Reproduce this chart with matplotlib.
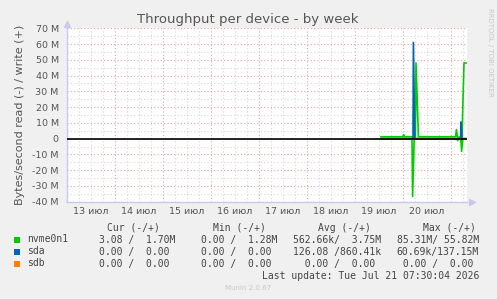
import matplotlib
matplotlib.use("Agg")
import matplotlib.pyplot as plt
from matplotlib.ticker import MultipleLocator, FuncFormatter, FixedLocator

# time axis: hours since 13 Jul 00:00, values in MB/s
day_labels = ["13 июл", "14 июл", "15 июл", "16 июл", "17 июл", "18 июл", "19 июл", "20 июл"]

nvme_write_t = [157, 168, 168.3, 168.6, 174.2, 174.5, 175.7, 194.3, 194.7, 195.3, 196.0, 197.5, 198.5, 199.5]
nvme_write_v = [1.2, 1.2, 2.5, 1.2, 1.2, 48.0, 1.2, 1.2, 5.7, 0.5, 1.0, 1.0, 48.0, 48.0]

nvme_read_t = [157, 172.5, 172.8, 173.6, 195.0, 195.3, 195.8, 196.9, 197.3, 197.9, 199.5]
nvme_read_v = [0, 0, -36.7, 0, 0, -1.2, 0, 0, -8.0, 0, 0]

sda_write_t = [157, 173.0, 173.2, 173.9, 196.8, 197.0, 197.5, 199.5]
sda_write_v = [0, 0, 61.0, 0, 0, 10.6, 0, 0]

sdb_t = [157, 199.5]
sdb_v = [0, 0]

# legend table
names = ["nvme0n1", "sda", "sdb"]
colors = ["#00CC00", "#0066B3", "#FF8000"]
cur_col = ["3.08 /  1.70M", "0.00 /  0.00", "0.00 /  0.00"]
min_col = ["0.00 /  1.28M", "0.00 /  0.00", "0.00 /  0.00"]
avg_col = ["562.66k/  3.75M", "126.08 /860.41k", "  0.00 /  0.00"]
max_col = ["85.31M/ 55.82M", "60.69k/137.15M", " 0.00 /  0.00"]

W, H = 497, 299
fig = plt.figure(figsize=(W / 100, H / 100), dpi=100)
fig.patch.set_facecolor("#F0F0F0")

ax = fig.add_axes([67 / W, 1 - 201.7 / H, 400 / W, 173.4 / H])
ax.set_facecolor("white")
ax.set_xlim(0, 200)
ax.set_ylim(-40, 70)

# grid
for h in range(0, 201, 6):
    if h % 24:
        ax.axvline(h, color="#D8D8D8", lw=0.8, ls=(0, (1, 2)), zorder=0)
for h in range(24, 201, 24):
    ax.axvline(h, color="#E8A0A0", lw=0.8, ls=(0, (1, 2)), zorder=0)
for v in range(-35, 70, 10):
    ax.axhline(v, color="#D8D8D8", lw=0.8, ls=(0, (1, 2)), zorder=0)
for v in range(-40, 71, 10):
    ax.axhline(v, color="#E8A0A0", lw=0.8, ls=(0, (1, 2)), zorder=0)

lw = 1.2
ax.plot(nvme_write_t, nvme_write_v, color=colors[0], lw=lw, zorder=3)
ax.plot(nvme_read_t, nvme_read_v, color=colors[0], lw=lw, zorder=3)
ax.plot(sda_write_t, sda_write_v, color=colors[1], lw=lw, zorder=4)
ax.plot(sdb_t, sdb_v, color=colors[2], lw=lw, zorder=5)
ax.axhline(0, color="black", lw=1.2, zorder=6)

for s in ["top", "right"]:
    ax.spines[s].set_visible(False)
for s in ["left", "bottom"]:
    ax.spines[s].set_color("#C8C8F0")
    ax.spines[s].set_linewidth(1.0)
ax.plot([0], [72.5], marker="^", color="#C8C8F0", ms=5, clip_on=False)
ax.plot([202.5], [-40], marker=">", color="#C8C8F0", ms=5, clip_on=False)

txt = "#555555"
ax.yaxis.set_major_locator(MultipleLocator(10))
ax.yaxis.set_major_formatter(FuncFormatter(lambda v, p: "0" if v == 0 else "%d M" % v))
ax.xaxis.set_major_locator(FixedLocator([12 + 24 * i for i in range(len(day_labels))]))
ax.set_xticklabels(day_labels)
ax.tick_params(length=0, labelsize=6.8, colors=txt, pad=4)
ax.tick_params(axis="y", pad=6)

ax.set_ylabel("Bytes/second read (-) / write (+)", fontsize=8, color=txt, labelpad=5)
fig.text(248 / W, 1 - 20 / H, "Throughput per device - by week", ha="center", va="center",
         fontsize=9.5, color=txt)
fig.text(490 / W, 1 - 52 / H, "RRDTOOL / TOBI OETIKER", rotation=270, ha="center", va="center",
         fontsize=5, color="#C8C8C8")

mono = "DejaVu Sans Mono"
fs = 7
lc = "#444444"
hy = 1 - 227.7 / H
for x, t in zip([107.3, 213.3, 318.3, 423.3], ["Cur (-/+)", "Min (-/+)", "Avg (-/+)", "Max (-/+)"]):
    fig.text(x / W, hy, t, family=mono, fontsize=fs, color=lc, va="center")
for i in range(len(names)):
    y = 1 - (239.5 + 12 * i) / H
    fig.patches.append(plt.Rectangle((14 / W, y - 3 / H), 6 / W, 6 / H, transform=fig.transFigure,
                                     facecolor=colors[i], edgecolor="none"))
    fig.text(26.7 / W, y, names[i], family=mono, fontsize=fs, color=lc, va="center")
    fig.text(99.3 / W, y, cur_col[i], family=mono, fontsize=fs, color=lc, va="center")
    fig.text(201.3 / W, y, min_col[i], family=mono, fontsize=fs, color=lc, va="center")
    fig.text(292.7 / W, y, avg_col[i], family=mono, fontsize=fs, color=lc, va="center")
    fig.text(396.7 / W, y, max_col[i], family=mono, fontsize=fs, color=lc, va="center")

fig.text(261.7 / W, 1 - 276 / H, "Last update: Tue Jul 21 07:30:04 2026", family=mono,
         fontsize=fs, color=lc, va="center")
fig.text(248 / W, 1 - 288 / H, "Munin 2.0.67", ha="center", va="center", fontsize=5,
         color="#C8C8C8")

fig.savefig("out.png", dpi=100, facecolor=fig.get_facecolor())
